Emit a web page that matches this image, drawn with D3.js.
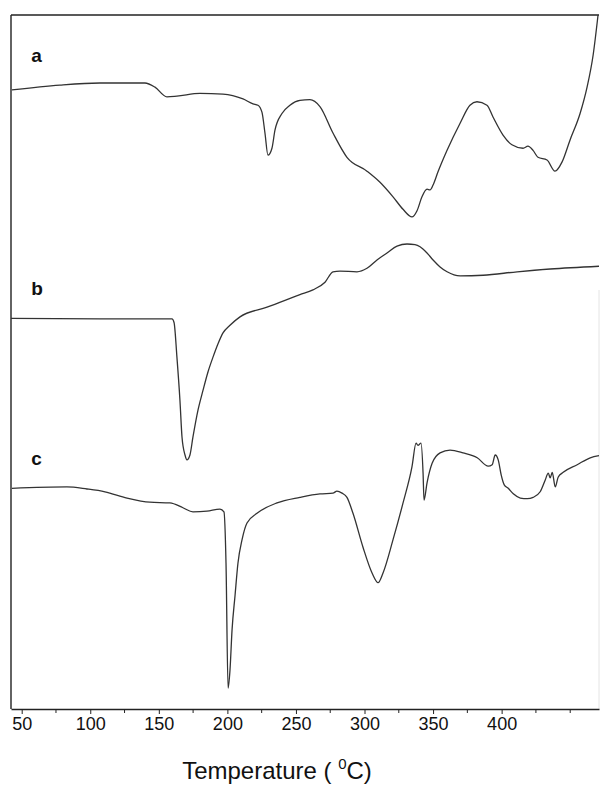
<!DOCTYPE html>
<html>
<head>
<meta charset="utf-8">
<script src="https://cdn.jsdelivr.net/npm/d3@7"></script>
<style>
  body { margin: 0; background: #fff; }
  svg { display: block; }
</style>
</head>
<body>
<script>
// DSC traces, temperature in deg C, heat flow in arbitrary units (offset per trace)
var tempA = [42.9, 77.9, 107.1, 139.9, 147.2, 155.9, 163.2, 180.0, 196.8, 211.4, 218.7, 222.3, 225.2, 227.4, 229.6, 232.5, 234.7, 239.8, 245.6, 252.9, 260.2, 267.5, 277.0, 287.2, 301.8, 311.3, 320.8, 328.1, 334.6, 338.3, 341.9, 345.6, 347.8, 350.0, 353.6, 360.2, 369.7, 376.9, 382.0, 389.3, 393.7, 401.0, 407.5, 415.6, 419.2, 422.9, 426.5, 433.1, 438.9, 444.0, 449.9, 457.2, 462.3, 466.7, 470.3];
var flowA = [89.2, 89.9, 90.2, 90.2, 89.6, 88.2, 88.3, 88.7, 88.6, 87.9, 87.2, 87.0, 86.0, 83.0, 79.8, 80.8, 83.4, 85.8, 87.0, 87.7, 87.8, 86.8, 83.0, 79.5, 77.5, 75.9, 73.8, 72.0, 70.9, 71.8, 73.8, 74.9, 74.8, 75.5, 77.4, 80.5, 84.4, 87.0, 87.5, 87.0, 85.3, 82.7, 81.3, 80.8, 81.1, 80.5, 79.5, 79.1, 77.5, 78.8, 82.0, 85.8, 89.6, 94.2, 100];

var tempB = [42.2, 107.1, 159.6, 161.1, 163.2, 165.4, 166.9, 169.1, 170.5, 172.7, 174.9, 178.6, 182.2, 185.9, 189.5, 193.1, 196.8, 201.9, 209.2, 228.9, 252.9, 262.4, 271.2, 277.0, 282.1, 294.5, 301.8, 309.1, 316.4, 323.7, 331.0, 336.8, 340.5, 345.6, 350.0, 355.1, 360.2, 369.7, 386.5, 411.3, 435.4, 471.0];
var flowB = [56.3, 56.2, 56.2, 55.7, 50.7, 44.5, 39.2, 36.6, 35.9, 36.6, 39.2, 43.1, 45.9, 48.6, 50.7, 52.6, 54.2, 55.3, 56.5, 57.9, 59.7, 60.4, 61.5, 63.0, 63.1, 63.0, 63.5, 64.7, 65.7, 66.7, 67.0, 66.9, 66.6, 65.7, 64.7, 63.7, 63.0, 62.4, 62.5, 63.0, 63.4, 63.8];

var tempC = [42.9, 83.0, 97.6, 110.7, 126.8, 143.5, 158.1, 167.6, 174.9, 185.1, 194.6, 197.5, 199.0, 200.5, 201.9, 203.4, 205.6, 207.7, 210.7, 214.3, 221.6, 236.2, 252.9, 267.5, 277.0, 279.9, 283.6, 287.2, 291.6, 298.9, 305.5, 309.9, 313.5, 320.8, 328.1, 334.6, 337.6, 339.0, 341.2, 342.7, 343.4, 345.6, 349.3, 355.1, 362.4, 371.9, 382.2, 390.2, 393.1, 395.3, 397.5, 399.7, 401.9, 404.8, 408.5, 413.6, 418.7, 423.0, 428.1, 431.8, 434.0, 435.4, 436.9, 439.1, 441.2, 444.9, 455.1, 464.6, 471.0];
var flowC = [31.8, 32.0, 31.7, 31.3, 30.4, 29.8, 29.7, 29.0, 28.4, 28.5, 28.8, 28.4, 21.0, 3.0, 5.6, 11.4, 16.4, 21.0, 24.4, 26.8, 28.2, 29.7, 30.5, 31.0, 31.1, 31.4, 31.1, 30.5, 28.2, 23.3, 19.6, 18.2, 19.6, 24.4, 29.7, 34.9, 38.3, 38.0, 38.3, 34.0, 30.1, 32.6, 35.4, 36.9, 37.3, 36.9, 36.2, 35.0, 35.2, 36.6, 35.9, 33.7, 32.3, 31.8, 31.0, 30.4, 30.3, 30.5, 31.3, 33.0, 34.0, 33.3, 34.1, 32.0, 33.4, 34.1, 35.2, 36.2, 36.5];

var seriesNames = ["a", "b", "c"];
var labelFlow = [93.2, 59.6, 35.2];   // where the letter sits, in flow units
var labelTemp = 57;
var majorTicks = [50, 100, 150, 200, 250, 300, 350, 400];
var minorTicks = [75, 125, 175, 225, 275, 325, 375, 425, 450];

var width = 600, height = 786;
var plotLeft = 11, plotRight = 599, plotTop = 15, plotBottom = 709;

var svg = d3.select("body").append("svg")
  .attr("width", width)
  .attr("height", height)
  .attr("font-family", "Liberation Sans, Arial, sans-serif");

var x = d3.scaleLinear().domain([42.2, 471]).range([plotLeft, plotRight]);
var y = d3.scaleLinear().domain([0, 100]).range([plotBottom, plotTop]);

// frame: top line, left line, faint right edge
svg.append("line")
  .attr("x1", plotLeft).attr("x2", plotRight)
  .attr("y1", plotTop).attr("y2", plotTop)
  .attr("stroke", "#222").attr("stroke-width", 1.4);
svg.append("line")
  .attr("x1", plotLeft).attr("x2", plotLeft)
  .attr("y1", plotTop).attr("y2", plotBottom)
  .attr("stroke", "#222").attr("stroke-width", 1.4);
svg.append("line")
  .attr("x1", plotRight).attr("x2", plotRight)
  .attr("y1", 290).attr("y2", plotBottom)
  .attr("stroke", "#e4e4e4").attr("stroke-width", 1);

// bottom axis
var xAxis = svg.append("g")
  .attr("transform", "translate(0," + plotBottom + ")")
  .call(d3.axisBottom(x).tickValues(majorTicks).tickSize(5).tickPadding(3).tickSizeOuter(0));
xAxis.select(".domain").attr("stroke", "#222").attr("stroke-width", 1.6);
xAxis.selectAll(".tick line").attr("stroke", "#222");
xAxis.selectAll(".tick text")
  .attr("font-size", "18px")
  .attr("fill", "#111")
  .attr("font-family", "Liberation Sans, Arial, sans-serif");

svg.append("g")
  .attr("transform", "translate(0," + plotBottom + ")")
  .selectAll("line")
  .data(minorTicks.filter(function(t) { return t < 471; }))
  .enter().append("line")
  .attr("x1", function(d) { return x(d); })
  .attr("x2", function(d) { return x(d); })
  .attr("y1", 0).attr("y2", 4)
  .attr("stroke", "#222");

// x title with superscript 0
var title = svg.append("text")
  .attr("x", 277)
  .attr("y", 779)
  .attr("text-anchor", "middle")
  .attr("font-size", "24px")
  .attr("fill", "#111");
title.append("tspan").text("Temperature ( ");
title.append("tspan").attr("dy", -10).attr("font-size", "15px").text("0");
title.append("tspan").attr("dy", 10).text("C)");

// traces
var traces = [
  d3.zip(tempA, flowA),
  d3.zip(tempB, flowB),
  d3.zip(tempC, flowC)
];

var line = d3.line()
  .x(function(d) { return x(d[0]); })
  .y(function(d) { return y(d[1]); })
  .curve(d3.curveMonotoneX);

svg.selectAll(".trace")
  .data(traces)
  .enter().append("path")
  .attr("class", "trace")
  .attr("d", line)
  .attr("fill", "none")
  .attr("stroke", "#333")
  .attr("stroke-width", 1.3);

svg.selectAll(".lbl")
  .data(seriesNames)
  .enter().append("text")
  .attr("class", "lbl")
  .attr("x", x(labelTemp))
  .attr("y", function(d, i) { return y(labelFlow[i]); })
  .attr("font-size", "19px")
  .attr("font-weight", "bold")
  .attr("fill", "#111")
  .text(function(d) { return d; });
</script>
</body>
</html>
